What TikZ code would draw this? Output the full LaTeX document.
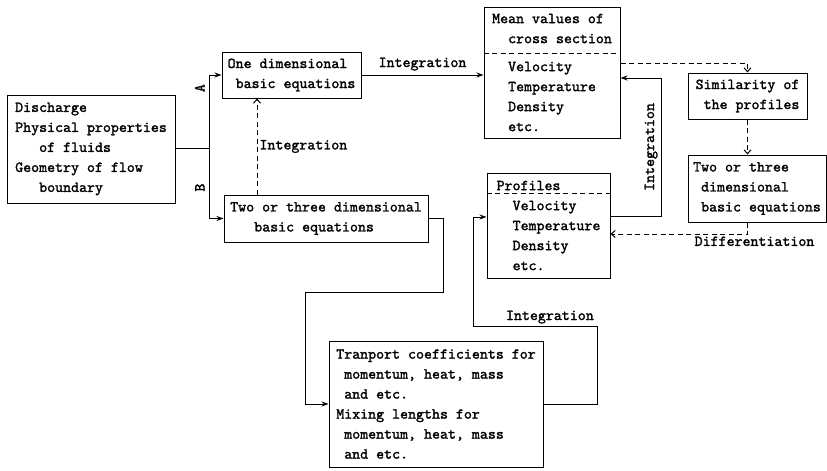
\documentclass[tikz,border=0pt]{standalone}
\usepackage{fontspec}
\setmonofont{lmmono10-regular}[Extension=.otf, FakeBold=1.6]
\usetikzlibrary{arrows.meta}

\newcommand{\ind}[1]{\hspace*{#1\dimexpr 8pt\relax}}

\begin{document}
\begin{tikzpicture}[
    x=1pt, y=-1pt,
    >=Stealth,
    box/.style={draw, line width=1pt, align=left, inner sep=0pt,
                font=\ttfamily\fontsize{15.2}{20}\selectfont},
    lbl/.style={font=\ttfamily\fontsize{15.2}{20}\selectfont, inner sep=2pt},
    wire/.style={line width=1pt},
    arr/.style={wire, -{Stealth[length=7pt, width=5pt]}},
    darr/.style={wire, dash pattern=on 5pt off 3.5pt,
                 -{Straight Barb[length=4pt, width=7pt]}},
    sep/.style={line width=1pt, dash pattern=on 5pt off 3.5pt}
  ]
  \useasboundingbox (0,0) rectangle (827,471);

  % boxes
  \node[box, minimum width=168pt, minimum height=108pt] (input) at (91,149)
    {Discharge\\Physical properties\\\ind3of fluids\\Geometry of flow\\\ind3boundary};
  \node[box, minimum width=139pt, minimum height=46pt] (onedim) at (291.5,75)
    {One dimensional\\\ind1basic equations};
  \node[box, minimum width=204pt, minimum height=47pt] (twodim) at (326,218.5)
    {Two or three dimensional\\\ind3basic equations};
  \node[box, minimum width=136pt, minimum height=131pt] (mean) at (552,72.5)
    {Mean values of\\\ind2cross section\\[8pt]\ind2Velocity\\\ind2Temperature\\\ind2Density\\\ind2etc.};
  \node[box, minimum width=123pt, minimum height=105pt] (profiles) at (548.5,225.5)
    {Profiles\\\ind2Velocity\\\ind2Temperature\\\ind2Density\\\ind2etc.};
  \node[box, minimum width=119pt, minimum height=46pt] (sim) at (747.5,96)
    {Similarity of\\\ind1the profiles};
  \node[box, minimum width=138pt, minimum height=67pt] (threeeq) at (757,188.5)
    {Two or three\\\ind1dimensional\\\ind1basic equations};
  \node[box, minimum width=214pt, minimum height=126pt] (trans) at (436,404)
    {Tranport coefficients for\\\ind1momentum, heat, mass\\\ind1and etc.\\Mixing lengths for\\\ind1momentum, heat, mass\\\ind1and etc.};

  % dashed dividers
  \coordinate (meancut) at (0,53);
  \coordinate (profcut) at (0,193.5);
  \draw[sep] (mean.west |- meancut) -- (mean.east |- meancut);
  \draw[sep] (profiles.west |- profcut) -- (profiles.east |- profcut);

  % helper points
  \coordinate (split) at (209,148);
  \coordinate (intup) at (257,0);
  \coordinate (meanout) at (0,63);
  \coordinate (diffrow) at (0,234);
  \coordinate (rint) at (661,78);
  \coordinate (profout) at (0,216);
  \coordinate (dropA) at (443,292);
  \coordinate (dropB) at (305,292);
  \coordinate (riseA) at (597,326);
  \coordinate (riseB) at (473,326);
  \coordinate (profin) at (0,217);

  % connectors
  \draw[wire] (input.east |- split) -- (split);
  \draw[arr] (split) |- (onedim)
    node[lbl, pos=.41, anchor=south, rotate=90, inner sep=4pt] {A};
  \draw[arr] (split) |- (twodim)
    node[lbl, pos=.28, anchor=south, rotate=90, inner sep=4pt] {B};
  \draw[arr] (onedim.east) -- (onedim.east -| mean.west)
    node[lbl, midway, above=2pt] {Integration};
  \draw[darr] (twodim.north -| intup) -- (onedim.south -| intup)
    node[lbl, midway, right] {Integration};
  \draw[darr] (mean.east |- meanout) -| (sim.north);
  \draw[darr] (sim.south) -- (sim.south |- threeeq.north);
  \draw[darr] (sim.south |- threeeq.south) -- (sim.south |- diffrow)
    node[lbl, below, xshift=7pt] {Differentiation} -- (profiles.east |- diffrow);
  \draw[arr] (profiles.east |- profout) -| (rint)
    node[lbl, pos=.75, anchor=south, rotate=90, inner sep=3pt] {Integration}
    -- (rint -| mean.east);
  \draw[arr] (twodim.east) -| (dropA) -- (dropB) |- (trans);
  \draw[arr] (trans.east) -| (riseA) -- (riseB)
    node[lbl, pos=.38, above] {Integration} |- (profiles.west |- profin);
\end{tikzpicture}
\end{document}
